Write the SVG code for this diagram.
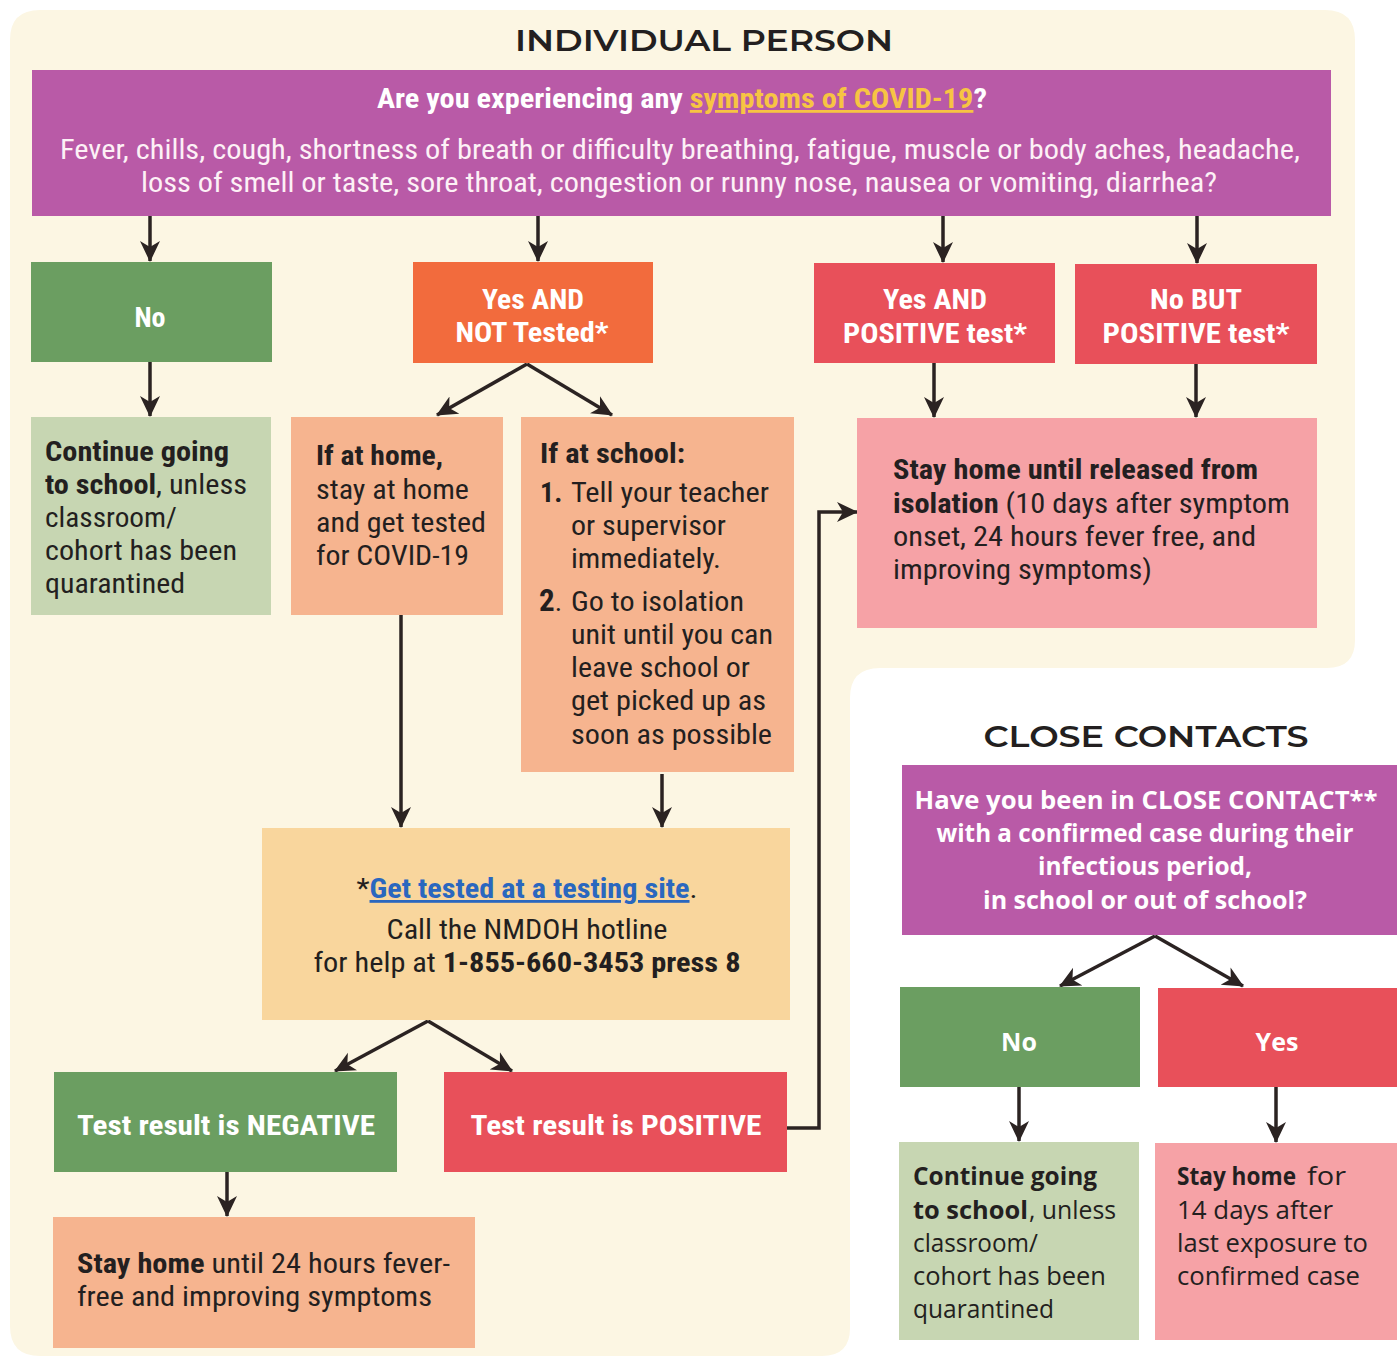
<svg xmlns="http://www.w3.org/2000/svg" width="1400" height="1360" viewBox="0 0 1400 1360">
<defs>
<style>
.c{font-family:"Liberation Sans Narrow","Roboto Condensed","DejaVu Sans Condensed","Liberation Sans",sans-serif;font-size:28px;fill:#231f20}
.v{font-family:"Open Sans","Noto Sans","DejaVu Sans",sans-serif;font-size:25px;fill:#231f20}
.h{font-family:"Montserrat","Open Sans","DejaVu Sans",sans-serif;font-weight:600;font-size:29px;fill:#231f20}
.w{fill:#ffffff;font-weight:bold}
.b{font-weight:bold}
.mid{text-anchor:middle}
.purple{fill:#b95aa7}
.green{fill:#6b9e61}
.orange{fill:#f26b3d}
.red{fill:#e8505a}
.lgreen{fill:#c7d6b2}
.salmon{fill:#f6b48f}
.pink{fill:#f6a2a6}
.yellow{fill:#f9d69d}
.conn{fill:none;stroke:#2b2322;stroke-width:3.5;marker-end:url(#ah)}
</style>
<marker id="ah" markerUnits="userSpaceOnUse" markerWidth="22" markerHeight="22" viewBox="0 0 22 22" refX="20" refY="11" orient="auto">
<path d="M0,1 L21,11 L0,21 L6,11 Z" fill="#2b2322"/>
</marker>
</defs>
<rect width="1400" height="1360" fill="#ffffff"/>
<path d="M40,10 H1325 Q1355,10 1355,40 V640 Q1355,668 1327,668 H880 Q850,668 850,698 V1328 Q850,1356 822,1356 H40 Q10,1356 10,1326 V40 Q10,10 40,10 Z" fill="#fcf6e3"/>

<text class="h mid" x="704" y="51" textLength="378" lengthAdjust="spacingAndGlyphs">INDIVIDUAL PERSON</text>
<text class="h mid" x="1146" y="747" textLength="325" lengthAdjust="spacingAndGlyphs">CLOSE CONTACTS</text>

<g id="connectors">
<path class="conn" d="M150,216 V261"/>
<path class="conn" d="M538,216 V261"/>
<path class="conn" d="M943,216 V262"/>
<path class="conn" d="M1197,216 V263"/>
<path class="conn" d="M150,362 V416"/>
<path class="conn" d="M527,364 L437,415"/>
<path class="conn" d="M527,364 L612,415"/>
<path class="conn" d="M934,363 V417"/>
<path class="conn" d="M1196,364 V417"/>
<path class="conn" d="M401,615 V827"/>
<path class="conn" d="M662,774 V827"/>
<path class="conn" d="M428,1021 L335,1071"/>
<path class="conn" d="M428,1021 L512,1071"/>
<path class="conn" d="M787,1128 H819 V512 H857"/>
<path class="conn" d="M227,1172 V1216"/>
<path class="conn" d="M1155,936 L1060,986"/>
<path class="conn" d="M1155,936 L1243,986"/>
<path class="conn" d="M1019,1087 V1141"/>
<path class="conn" d="M1276,1087 V1142"/>
</g>

<g id="q-symptoms">
<rect class="purple" x="32" y="70" width="1299" height="146"/>
<text class="c w mid" x="682" y="108" textLength="610" lengthAdjust="spacingAndGlyphs">Are you experiencing any <tspan fill="#f7c443" text-decoration="underline">symptoms of COVID-19</tspan>?</text>
<text class="c mid" x="680" y="159" style="fill:#fdf1f6" textLength="1240" lengthAdjust="spacingAndGlyphs">Fever, chills, cough, shortness of breath or difficulty breathing, fatigue, muscle or body aches, headache,</text>
<text class="c mid" x="679" y="192" style="fill:#fdf1f6" textLength="1076" lengthAdjust="spacingAndGlyphs">loss of smell or taste, sore throat, congestion or runny nose, nausea or vomiting, diarrhea?</text>
</g>

<g id="no">
<rect class="green" x="31" y="262" width="241" height="100"/>
<text class="c w mid" x="150" y="327">No</text>
</g>

<g id="yes-not-tested">
<rect class="orange" x="413" y="262" width="240" height="101"/>
<text class="c w mid" x="533" y="309" textLength="102" lengthAdjust="spacingAndGlyphs">Yes AND</text>
<text class="c w mid" x="532" y="342" textLength="153" lengthAdjust="spacingAndGlyphs">NOT Tested*</text>
</g>

<g id="yes-positive">
<rect class="red" x="814" y="263" width="241" height="100"/>
<text class="c w mid" x="935" y="309" textLength="104" lengthAdjust="spacingAndGlyphs">Yes AND</text>
<text class="c w mid" x="935" y="343" textLength="184" lengthAdjust="spacingAndGlyphs">POSITIVE test*</text>
</g>

<g id="no-but-positive">
<rect class="red" x="1075" y="264" width="242" height="100"/>
<text class="c w mid" x="1196" y="309" textLength="92" lengthAdjust="spacingAndGlyphs">No BUT</text>
<text class="c w mid" x="1196" y="343" textLength="187" lengthAdjust="spacingAndGlyphs">POSITIVE test*</text>
</g>

<g id="continue-school">
<rect class="lgreen" x="31" y="417" width="240" height="198"/>
<text class="c b" x="45" y="461" textLength="184" lengthAdjust="spacingAndGlyphs">Continue going</text>
<text class="c" x="45" y="494" textLength="202" lengthAdjust="spacingAndGlyphs"><tspan class="b">to school</tspan>, unless</text>
<text class="c" x="45" y="527" textLength="132" lengthAdjust="spacingAndGlyphs">classroom/</text>
<text class="c" x="45" y="560" textLength="192" lengthAdjust="spacingAndGlyphs">cohort has been</text>
<text class="c" x="45" y="593" textLength="140" lengthAdjust="spacingAndGlyphs">quarantined</text>
</g>

<g id="if-home">
<rect class="salmon" x="291" y="417" width="212" height="198"/>
<text class="c b" x="316" y="465" textLength="127" lengthAdjust="spacingAndGlyphs">If at home,</text>
<text class="c" x="316" y="499" textLength="153" lengthAdjust="spacingAndGlyphs">stay at home</text>
<text class="c" x="316" y="532" textLength="170" lengthAdjust="spacingAndGlyphs">and get tested</text>
<text class="c" x="316" y="565" textLength="153" lengthAdjust="spacingAndGlyphs">for COVID-19</text>
</g>

<g id="if-school">
<rect class="salmon" x="521" y="417" width="273" height="355"/>
<text class="c b" x="540" y="463" textLength="145" lengthAdjust="spacingAndGlyphs">If at school:</text>
<text class="c b" x="540" y="502">1.</text>
<text class="c" x="571" y="502" textLength="198" lengthAdjust="spacingAndGlyphs">Tell your teacher</text>
<text class="c" x="571" y="535" textLength="155" lengthAdjust="spacingAndGlyphs">or supervisor</text>
<text class="c" x="571" y="568" textLength="150" lengthAdjust="spacingAndGlyphs">immediately.</text>
<text class="c" x="539" y="611"><tspan class="b" font-size="31">2</tspan>.</text>
<text class="c" x="571" y="611" textLength="173" lengthAdjust="spacingAndGlyphs">Go to isolation</text>
<text class="c" x="571" y="644" textLength="202" lengthAdjust="spacingAndGlyphs">unit until you can</text>
<text class="c" x="571" y="677" textLength="179" lengthAdjust="spacingAndGlyphs">leave school or</text>
<text class="c" x="571" y="710" textLength="195" lengthAdjust="spacingAndGlyphs">get picked up as</text>
<text class="c" x="571" y="744" textLength="201" lengthAdjust="spacingAndGlyphs">soon as possible</text>
</g>

<g id="stay-home-isolation">
<rect class="pink" x="857" y="418" width="460" height="210"/>
<text class="c b" x="893" y="479" textLength="365" lengthAdjust="spacingAndGlyphs">Stay home until released from</text>
<text class="c" x="893" y="513" textLength="397" lengthAdjust="spacingAndGlyphs"><tspan class="b">isolation</tspan> (10 days after symptom</text>
<text class="c" x="893" y="546" textLength="363" lengthAdjust="spacingAndGlyphs">onset, 24 hours fever free, and</text>
<text class="c" x="893" y="579" textLength="259" lengthAdjust="spacingAndGlyphs">improving symptoms)</text>
</g>

<g id="testing-site">
<rect class="yellow" x="262" y="828" width="528" height="192"/>
<text class="c mid" x="527" y="898" textLength="341" lengthAdjust="spacingAndGlyphs">*<tspan class="b" style="fill:#2a67bf" text-decoration="underline">Get tested at a testing site</tspan>.</text>
<text class="c mid" x="527" y="939" textLength="281" lengthAdjust="spacingAndGlyphs">Call the NMDOH hotline</text>
<text class="c mid" x="527" y="972" textLength="427" lengthAdjust="spacingAndGlyphs">for help at <tspan class="b">1-855-660-3453 press 8</tspan></text>
</g>

<g id="negative">
<rect class="green" x="54" y="1072" width="343" height="100"/>
<text class="c w mid" x="226" y="1135" textLength="298" lengthAdjust="spacingAndGlyphs">Test result is NEGATIVE</text>
</g>

<g id="positive">
<rect class="red" x="444" y="1072" width="343" height="100"/>
<text class="c w mid" x="616" y="1135" textLength="291" lengthAdjust="spacingAndGlyphs">Test result is POSITIVE</text>
</g>

<g id="stay-home-24h">
<rect class="salmon" x="53" y="1217" width="422" height="131"/>
<text class="c" x="77" y="1273" textLength="373" lengthAdjust="spacingAndGlyphs"><tspan class="b">Stay home</tspan> until 24 hours fever-</text>
<text class="c" x="77" y="1306" textLength="355" lengthAdjust="spacingAndGlyphs">free and improving symptoms</text>
</g>

<g id="q-close-contact">
<rect class="purple" x="902" y="765" width="495" height="170"/>
<text class="v w mid" x="1146" y="809" textLength="463" lengthAdjust="spacingAndGlyphs">Have you been in CLOSE CONTACT**</text>
<text class="v w mid" x="1145" y="842" textLength="417" lengthAdjust="spacingAndGlyphs">with a confirmed case during their</text>
<text class="v w mid" x="1145" y="875" textLength="214" lengthAdjust="spacingAndGlyphs">infectious period,</text>
<text class="v w mid" x="1145" y="909" textLength="324" lengthAdjust="spacingAndGlyphs">in school or out of school?</text>
</g>

<g id="cc-no">
<rect class="green" x="900" y="987" width="240" height="100"/>
<text class="v w mid" x="1019" y="1051">No</text>
</g>

<g id="cc-yes">
<rect class="red" x="1158" y="988" width="239" height="99"/>
<text class="v w mid" x="1277" y="1051">Yes</text>
</g>

<g id="cc-continue">
<rect class="lgreen" x="899" y="1142" width="240" height="198"/>
<text class="v b" x="913" y="1185" textLength="184" lengthAdjust="spacingAndGlyphs">Continue going</text>
<text class="v b" x="913" y="1219" textLength="115" lengthAdjust="spacingAndGlyphs">to school</text>
<text class="v" x="1029" y="1219" textLength="87" lengthAdjust="spacingAndGlyphs">, unless</text>
<text class="v" x="913" y="1252" textLength="125" lengthAdjust="spacingAndGlyphs">classroom/</text>
<text class="v" x="913" y="1285" textLength="193" lengthAdjust="spacingAndGlyphs">cohort has been</text>
<text class="v" x="913" y="1318" textLength="141" lengthAdjust="spacingAndGlyphs">quarantined</text>
</g>

<g id="cc-stay-home">
<rect class="pink" x="1155" y="1143" width="242" height="197"/>
<text class="v b" x="1177" y="1185" font-size="23" textLength="119" lengthAdjust="spacingAndGlyphs">Stay home</text>
<text class="v" x="1307" y="1185" textLength="39" lengthAdjust="spacingAndGlyphs">for</text>
<text class="v" x="1177" y="1219" textLength="156" lengthAdjust="spacingAndGlyphs">14 days after</text>
<text class="v" x="1177" y="1252" textLength="191" lengthAdjust="spacingAndGlyphs">last exposure to</text>
<text class="v" x="1177" y="1285" textLength="183" lengthAdjust="spacingAndGlyphs">confirmed case</text>
</g>
</svg>
